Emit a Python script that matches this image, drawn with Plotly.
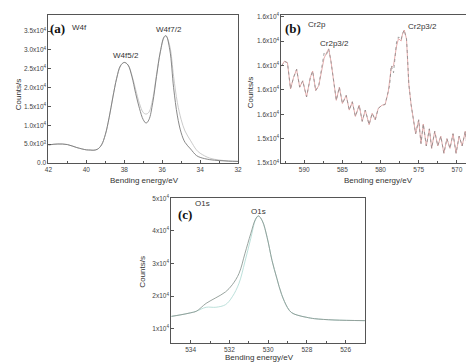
import plotly.graph_objects as go

# ---------------- data ----------------
# (a) W4f
w4f_energy = [42.0, 41.5, 41.0, 40.5, 40.0, 39.8, 39.6, 39.4, 39.2, 39.0, 38.8, 38.6, 38.4, 38.2, 38.0,
              37.8, 37.6, 37.4, 37.2, 37.0, 36.85, 36.7, 36.5, 36.3, 36.1, 35.9, 35.8, 35.6, 35.4,
              35.2, 35.0, 34.8, 34.5, 34.2, 34.0, 33.5, 33.0, 32.5, 32.0]
w4f_measured = [4800, 5050, 4900, 4100, 3500, 3450, 3400, 3700, 4800, 7500, 12000, 17500, 22500, 25800, 26700,
                26000, 23000, 18500, 14500, 11500, 10600, 11500, 16000, 23000, 29500, 33500, 33800, 30000, 20000,
                12500, 8000, 5500, 3700, 2000, 1500, 900, 650, 500, 430]
w4f_fit = [4800, 5050, 4900, 4100, 3500, 3450, 3400, 3700, 4800, 7500, 12000, 17500, 22500, 25800, 26700,
           26000, 23300, 19500, 15800, 13400, 13000, 13500, 17000, 23500, 29500, 33300, 33700, 31000, 23000,
           16000, 11500, 8500, 5900, 3500, 2600, 1300, 800, 550, 430]

# (b) Cr2p
cr_energy = [593.0, 592.6, 592.2, 591.8, 591.4, 591.0, 590.6, 590.2, 589.7, 589.2, 588.9, 588.5, 588.1,
             587.7, 587.4, 587.1, 586.8, 586.5, 586.2, 585.8, 585.4, 585.0, 584.5, 584.1, 583.7, 583.3,
             582.8, 582.4, 582.0, 581.5, 581.1, 580.7, 580.3, 579.8, 579.4, 579.0, 578.8, 578.6, 578.3,
             577.9, 577.65, 577.3, 577.15, 576.9, 576.6, 576.5, 576.3, 576.0, 575.7, 575.4, 575.0, 574.7,
             574.4, 574.0, 573.6, 573.3, 572.9, 572.5, 572.1, 571.7, 571.3, 570.9, 570.5, 570.1, 569.7,
             569.3, 568.9, 568.5, 568.0]
cr_measured = [15797, 15817, 15811, 15704, 15751, 15784, 15711, 15737, 15671, 15751, 15777, 15697, 15717,
               15784, 15851, 15844, 15868, 15817, 15751, 15657, 15711, 15644, 15677, 15617, 15651, 15591,
               15637, 15571, 15617, 15557, 15604, 15577, 15624, 15637, 15640, 15690, 15720, 15800, 15770,
               15897, 15917, 15905, 15929, 15945, 15909, 15857, 15725, 15640, 15580, 15520, 15577, 15480,
               15560, 15470, 15540, 15460, 15530, 15470, 15510, 15440, 15500, 15460, 15520, 15440, 15510,
               15470, 15530, 15430, 15460]
cr_fit = [15797, 15817, 15811, 15704, 15751, 15784, 15711, 15737, 15671, 15751, 15777, 15697, 15717,
          15784, 15830, 15850, 15868, 15817, 15751, 15657, 15711, 15644, 15677, 15617, 15651, 15591,
          15637, 15571, 15617, 15557, 15604, 15577, 15624, 15637, 15640, 15690, 15740, 15790, 15800,
          15880, 15910, 15900, 15925, 15945, 15909, 15857, 15725, 15640, 15580, 15520, 15577, 15480,
          15560, 15470, 15540, 15460, 15530, 15470, 15510, 15440, 15500, 15460, 15520, 15440, 15510,
          15470, 15530, 15430, 15460]

# (c) O1s
o1s_energy = [535.0, 534.5, 534.0, 533.7, 533.2, 532.7, 532.2, 531.85, 531.5, 531.2, 530.9, 530.65, 530.5,
              530.3, 530.05, 529.8, 529.55, 529.3, 529.0, 528.8, 528.5, 528.0, 527.6, 526.6, 525.0]
o1s_measured = [13800, 14300, 14900, 15400, 17800, 19500, 21300, 23500, 27000, 33000, 39100, 43600, 44600,
                43100, 38000, 31000, 25500, 20500, 16500, 15000, 14200, 13500, 13100, 12700, 12500]
o1s_fit = [13800, 14300, 14900, 15400, 16600, 16600, 17400, 19800, 24000, 30500, 37600, 43400, 44600,
           43100, 38000, 31000, 25500, 20500, 16500, 15000, 14200, 13500, 13100, 12700, 12500]

# tick labels
a_yvals = [0, 5000, 10000, 15000, 20000, 25000, 30000, 35000]
a_ytext = ["0.0", "5.0x10<sup>3</sup>", "1.0x10<sup>4</sup>", "1.5x10<sup>4</sup>", "2.0x10<sup>4</sup>",
           "2.5x10<sup>4</sup>", "3.0x10<sup>4</sup>", "3.5x10<sup>4</sup>"]
b_yvals = [15400, 15500, 15600, 15700, 15800, 15900, 16000]
b_ytext = ["1.5x10<sup>4</sup>", "1.5x10<sup>4</sup>", "1.6x10<sup>4</sup>", "1.6x10<sup>4</sup>",
           "1.6x10<sup>4</sup>", "1.6x10<sup>4</sup>", "1.6x10<sup>4</sup>"]
c_yvals = [10000, 20000, 30000, 40000, 50000]
c_ytext = ["1x10<sup>4</sup>", "2x10<sup>4</sup>", "3x10<sup>4</sup>", "4x10<sup>4</sup>", "5x10<sup>4</sup>"]

# ---------------- figure ----------------
W, H = 474, 362
fig = go.Figure()

fig.add_trace(go.Scatter(x=w4f_energy, y=w4f_fit, mode="lines", xaxis="x", yaxis="y",
                         line=dict(color="#c4c4c4", width=0.9, shape="spline", smoothing=1.0)))
fig.add_trace(go.Scatter(x=w4f_energy, y=w4f_measured, mode="lines", xaxis="x", yaxis="y",
                         line=dict(color="#7a7a7a", width=0.9, shape="spline", smoothing=1.0)))

fig.add_trace(go.Scatter(x=cr_energy, y=cr_fit, mode="lines", xaxis="x2", yaxis="y2",
                         line=dict(color="#e2a4a4", width=0.9)))
fig.add_trace(go.Scatter(x=cr_energy, y=cr_measured, mode="lines", xaxis="x2", yaxis="y2",
                         line=dict(color="#8a8a8a", width=0.8, dash="dot")))

fig.add_trace(go.Scatter(x=o1s_energy, y=o1s_fit, mode="lines", xaxis="x3", yaxis="y3",
                         line=dict(color="#b4dcd6", width=0.9, shape="spline", smoothing=1.0)))
fig.add_trace(go.Scatter(x=o1s_energy, y=o1s_measured, mode="lines", xaxis="x3", yaxis="y3",
                         line=dict(color="#8d9a94", width=0.9, shape="spline", smoothing=1.0)))


def px(v):
    return v / W


def py(v):
    return 1 - v / H


tickfont = dict(family="Liberation Sans, Arial", size=6.5, color="#444")
axcommon = dict(showline=True, linecolor="#555", linewidth=1, mirror=True, showgrid=False,
                zeroline=False, ticks="inside", ticklen=3, tickcolor="#555", tickfont=tickfont)

fig.update_layout(
    width=W, height=H, margin=dict(l=0, r=0, t=0, b=0),
    paper_bgcolor="white", plot_bgcolor="white", showlegend=False,
    xaxis=dict(domain=[px(37), px(230)], range=[42, 32], anchor="y", tick0=32, dtick=2,
               minor=dict(ticks="inside", dtick=1, ticklen=2, tickcolor="#555"), **axcommon),
    yaxis=dict(domain=[py(154), py(3)], range=[0, 39300], anchor="x", tickmode="array",
               tickvals=a_yvals, ticktext=a_ytext, **axcommon),
    xaxis2=dict(domain=[px(274), px(468)], range=[593, 568], anchor="y2", tick0=570, dtick=5,
                minor=dict(ticks="inside", dtick=2.5, ticklen=2, tickcolor="#555"), **axcommon),
    yaxis2=dict(domain=[py(154), py(3)], range=[15400, 16007], anchor="x2", tickmode="array",
                tickvals=b_yvals, ticktext=b_ytext, **axcommon),
    xaxis3=dict(domain=[px(162), px(359)], range=[535, 525], anchor="y3", tick0=526, dtick=2,
                minor=dict(ticks="inside", dtick=1, ticklen=2, tickcolor="#555"), **axcommon),
    yaxis3=dict(domain=[py(338), py(190)], range=[5500, 50000], anchor="x3", tickmode="array",
                tickvals=c_yvals, ticktext=c_ytext, **axcommon),
)

lab = dict(family="Liberation Sans, Arial", size=8, color="#333")
panel = dict(family="Liberation Serif, Times New Roman", size=13, color="#111")

annots = [
    ("<b>(a)</b>", 46.5, 17, panel, 0), ("W4f", 69, 16, lab, 0),
    ("W4f5/2", 116, 44, lab, 0), ("W4f7/2", 160, 18, lab, 0),
    ("<b>(b)</b>", 286, 17, panel, 0), ("Cr2p", 310, 13, lab, 0),
    ("Cr2p3/2", 328, 32, lab, 0), ("Cr2p3/2", 418, 15, lab, 0),
    ("<b>(c)</b>", 176, 207, panel, 0), ("O1s", 194, 195, lab, 0), ("O1s", 251, 203, lab, 0),
    ("Bending energy/eV", 135, 172, lab, 0), ("Bending energy/eV", 373, 172, lab, 0),
    ("Bending energy/eV", 252, 352, lab, 0),
    ("Counts/s", 6, 84, lab, -90), ("Counts/s", 243, 82, lab, -90), ("Counts/s", 133, 265, lab, -90),
]
for text, x, y, f, ang in annots:
    fig.add_annotation(text=text, x=px(x), y=py(y), xref="paper", yref="paper", showarrow=False,
                       font=f, textangle=ang, xanchor="center", yanchor="middle")

fig.write_html("out.html")
